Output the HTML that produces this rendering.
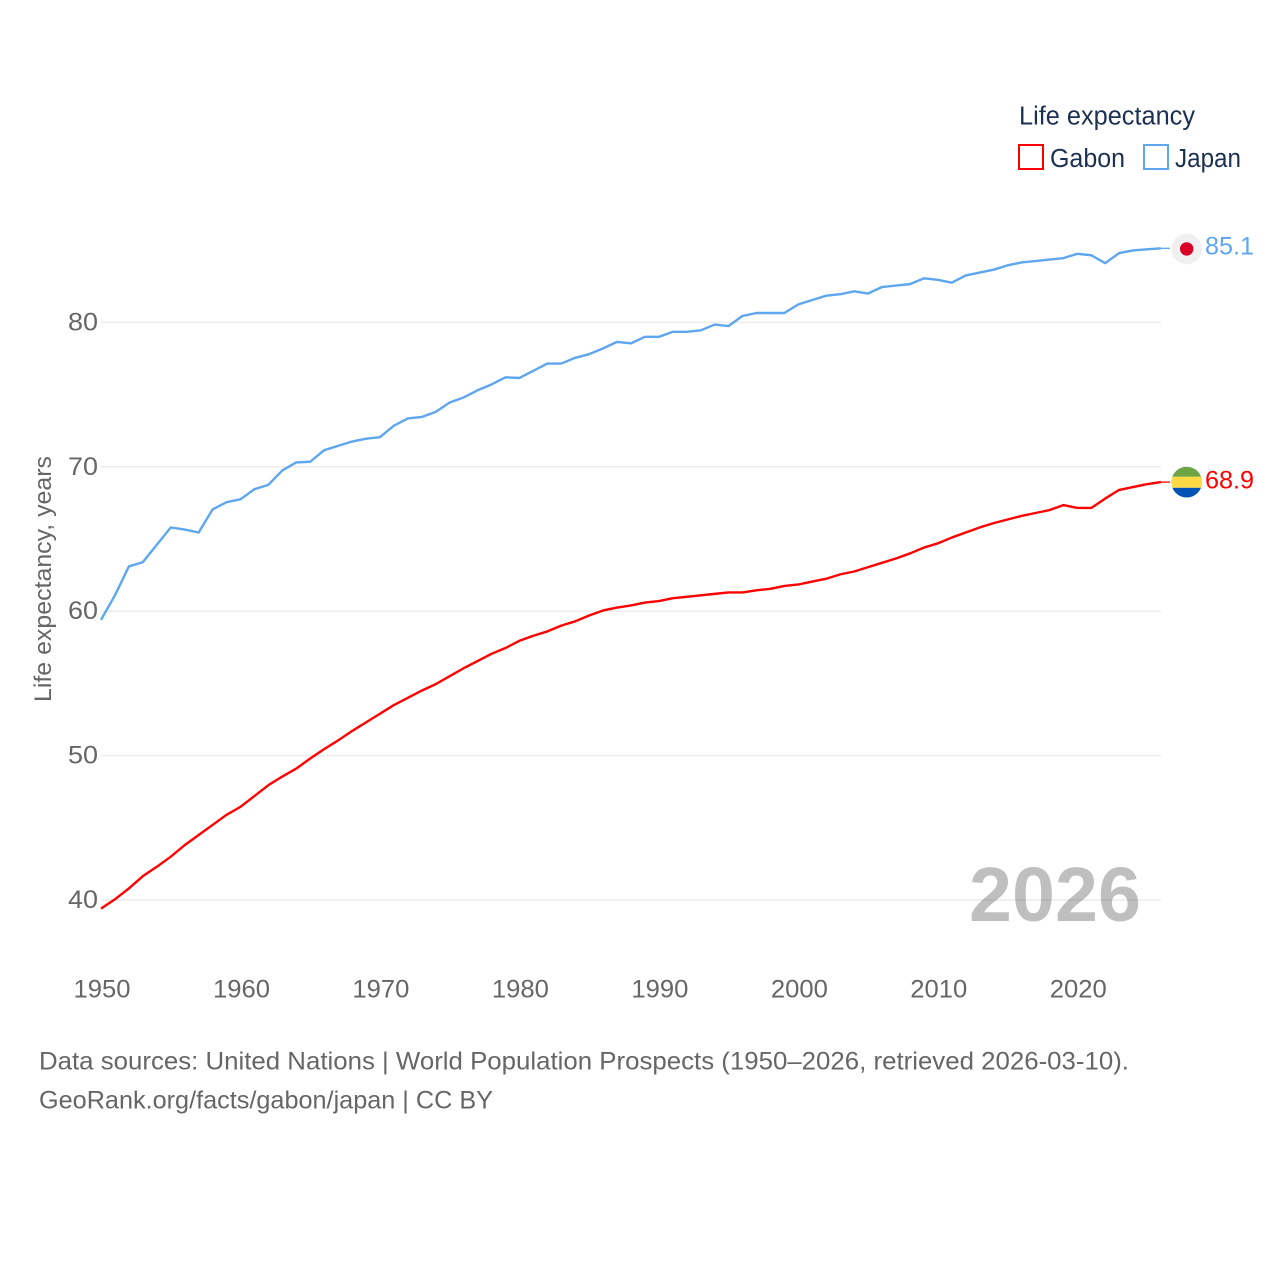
<!DOCTYPE html>
<html lang="en">
<head>
<meta charset="utf-8">
<title>Life expectancy: Gabon and Japan</title>
<style>
html,body{margin:0;padding:0;background:#fff;width:1280px;height:1280px;overflow:hidden}
svg{display:block}
text{font-family:"Liberation Sans",sans-serif}
</style>
</head>
<body>
<svg id="chart" xmlns="http://www.w3.org/2000/svg" width="1280" height="1280" viewBox="0 0 1280 1280">
  <g id="grid"></g>
  <g id="yticks"></g>
  <g id="xticks"></g>
  <text transform="translate(51,702) rotate(-90)" font-size="24.5" fill="#666" textLength="246" lengthAdjust="spacingAndGlyphs">Life expectancy, years</text>
  <text x="969" y="921" font-size="77" font-weight="700" fill="#000" fill-opacity="0.25" textLength="172" lengthAdjust="spacingAndGlyphs">2026</text>
  <g id="series"></g>
  <g id="ends"></g>
  <g>
    <text x="1019" y="124.5" font-size="25.5" fill="#1b3050" textLength="176" lengthAdjust="spacingAndGlyphs">Life expectancy</text>
    <rect x="1019" y="145" width="24" height="24" fill="none" stroke="#ff0000" stroke-width="2"/>
    <text x="1050" y="167" font-size="25.5" fill="#1b3050" textLength="75" lengthAdjust="spacingAndGlyphs">Gabon</text>
    <rect x="1144" y="145" width="24" height="24" fill="none" stroke="#5ea6ee" stroke-width="2"/>
    <text x="1175" y="167" font-size="25.5" fill="#1b3050" textLength="66" lengthAdjust="spacingAndGlyphs">Japan</text>
  </g>
  <text x="39" y="1069.3" font-size="25" fill="#666" textLength="1090" lengthAdjust="spacingAndGlyphs">Data sources: United Nations | World Population Prospects (1950–2026, retrieved 2026-03-10).</text>
  <text x="39" y="1108.3" font-size="25" fill="#666" textLength="454" lengthAdjust="spacingAndGlyphs">GeoRank.org/facts/gabon/japan | CC BY</text>
</svg>
<script>
const firstYear = 1950;
const xTickLabels = [1950, 1960, 1970, 1980, 1990, 2000, 2010, 2020];
const yTickLabels = [40, 50, 60, 70, 80];
const gabonValues = [
  39.4, 40.05, 40.8, 41.65, 42.3, 43.0, 43.8, 44.5, 45.2, 45.9,
  46.45, 47.2, 47.95, 48.55, 49.1, 49.8, 50.45, 51.05, 51.7, 52.3,
  52.9, 53.5, 54.0, 54.5, 54.95, 55.5, 56.05, 56.55, 57.05, 57.45,
  57.95, 58.3, 58.6, 59.0, 59.3, 59.7, 60.05, 60.25, 60.4, 60.6,
  60.7, 60.9, 61.0, 61.1, 61.2, 61.3, 61.3, 61.45, 61.55, 61.75,
  61.85, 62.05, 62.25, 62.55, 62.75, 63.05, 63.35, 63.65, 64.0, 64.4,
  64.7, 65.1, 65.45, 65.8, 66.1, 66.35, 66.6, 66.8, 67.0, 67.35,
  67.15, 67.15, 67.8, 68.4, 68.6, 68.8, 68.94
];
const japanValues = [
  59.4, 61.1, 63.1, 63.4, 64.6, 65.8, 65.65, 65.45, 67.05, 67.55,
  67.75, 68.45, 68.75, 69.75, 70.3, 70.35, 71.15, 71.45, 71.75, 71.95,
  72.05, 72.85, 73.35, 73.45, 73.8, 74.45, 74.8, 75.3, 75.7, 76.2,
  76.15, 76.65, 77.15, 77.15, 77.55, 77.8, 78.2, 78.65, 78.55, 79.0,
  79.0, 79.35, 79.35, 79.45, 79.85, 79.75, 80.45, 80.65, 80.65, 80.65,
  81.25, 81.55, 81.85, 81.95, 82.15, 82.0, 82.45, 82.55, 82.65, 83.05,
  82.95, 82.75, 83.25, 83.45, 83.65, 83.95, 84.15, 84.25, 84.35, 84.45,
  84.75, 84.65, 84.1, 84.8, 84.98, 85.06, 85.13
];

const NS = 'http://www.w3.org/2000/svg';
function xScale(year) { return 101 + (year - 1950) * 13.947; }
function yScale(value) { return 900 - (value - 40) * 14.44; }
function pointsFor(values) {
  return values.map(function (v, i) { return xScale(firstYear + i).toFixed(2) + ',' + yScale(v).toFixed(2); }).join(' ');
}
function make(tag, parent, attrs) {
  const el = document.createElementNS(NS, tag);
  Object.keys(attrs).forEach(function (k) { el.setAttribute(k, attrs[k]); });
  parent.appendChild(el);
  return el;
}
const grid = document.getElementById('grid');
const yticks = document.getElementById('yticks');
const xticks = document.getElementById('xticks');
const series = document.getElementById('series');
const ends = document.getElementById('ends');
const lastYear = firstYear + gabonValues.length - 1;

yTickLabels.forEach(function (t) {
  const line = make('line', grid, {x1: xScale(firstYear), x2: xScale(lastYear), y1: yScale(t), y2: yScale(t), stroke: '#ececec', 'stroke-width': 1.5});
  
  
  const label = make('text', yticks, {x: 98, y: yScale(t) + 8, 'text-anchor': 'end', 'font-size': 25, fill: '#666', textLength: 30, lengthAdjust: 'spacingAndGlyphs'});
  label.textContent = t;
  
  
});

xTickLabels.forEach(function (t) {
  const label = make('text', xticks, {x: xScale(t) + 1, y: 997.3, 'text-anchor': 'middle', 'font-size': 25, fill: '#666', textLength: 57, lengthAdjust: 'spacingAndGlyphs'});
  label.textContent = t;
  
  
});

const gabonLine = make('polyline', series, {points: pointsFor(gabonValues), fill: 'none', stroke: '#ff0000', 'stroke-width': 2.4, 'stroke-linejoin': 'round'});


const japanLine = make('polyline', series, {points: pointsFor(japanValues), fill: 'none', stroke: '#5ea6ee', 'stroke-width': 2.4, 'stroke-linejoin': 'round'});



/* Japan end marker */
const jv = japanValues[japanValues.length - 1];
const jy = yScale(jv);
const jx = xScale(lastYear);
const jConn = make('line', ends, {x1: jx, x2: jx + 9, y1: jy, y2: jy, stroke: '#5ea6ee', 'stroke-width': 1.3});


const jDisc = make('circle', ends, {cx: 1186.7, cy: jy + 0.6, r: 15.3, fill: '#f0f0f0'});


const jSun = make('circle', ends, {cx: 1186.7, cy: jy + 0.6, r: 6.7, fill: '#d80027'});


const jLabel = make('text', ends, {x: 1205, y: jy + 6, 'font-size': 25, fill: '#5ea6ee', textLength: 49, lengthAdjust: 'spacingAndGlyphs'});
jLabel.textContent = jv.toFixed(1);



/* Gabon end marker */
const gv = gabonValues[gabonValues.length - 1];
const gy = yScale(gv);
const gConn = make('line', ends, {x1: jx, x2: jx + 9, y1: gy, y2: gy, stroke: '#ff0000', 'stroke-width': 1.3});


const clip = make('clipPath', ends, {id: 'gabon-clip'});
make('circle', clip, {cx: 1186.7, cy: gy, r: 15.4});
const gFlag = make('g', ends, {'clip-path': 'url(#gabon-clip)'});


make('rect', gFlag, {x: 1170, y: gy - 16, width: 34, height: 10.7, fill: '#6da544'});
make('rect', gFlag, {x: 1170, y: gy - 5.3, width: 34, height: 11, fill: '#ffda44'});
make('rect', gFlag, {x: 1170, y: gy + 5.7, width: 34, height: 11, fill: '#0052b4'});
const gLabel = make('text', ends, {x: 1205, y: gy + 6.2, 'font-size': 25, fill: '#ff0000', textLength: 49, lengthAdjust: 'spacingAndGlyphs'});
gLabel.textContent = gv.toFixed(1);


</script>
</body>
</html>
